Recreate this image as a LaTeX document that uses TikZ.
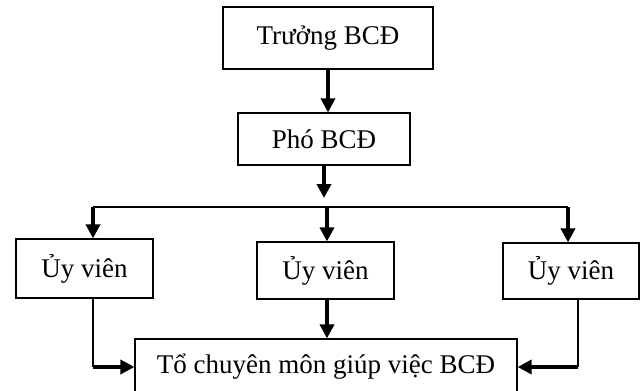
\documentclass[tikz,border=0pt]{standalone}
\usepackage{fontspec}
\setmainfont{Liberation Serif}
\usetikzlibrary{arrows.meta}
\begin{document}
\begin{tikzpicture}[x=1pt,y=-1pt,
    box/.style={draw,line width=1.2pt,inner sep=0pt,font=\fontsize{27}{32}\selectfont},
    arr/.style={line width=3.5pt,-{Triangle[length=14pt,width=14pt]}},
    thin/.style={line width=1.2pt}]
    \clip (0,0) rectangle (643,391);

    % Draw boxes
    \node[box,minimum width=210pt,minimum height=62pt] (truong) at (328,38) {Trưởng BCĐ};
    \node[box,minimum width=172pt,minimum height=52pt] (pho) at (324,139) {Phó BCĐ};
    \node[box,minimum width=137pt,minimum height=59pt] (uv1) at (84.5,268.5) {Ủy viên};
    \node[box,minimum width=137pt,minimum height=57pt] (uv2) at (325.5,270.5) {Ủy viên};
    \node[box,minimum width=136pt,minimum height=56pt] (uv3) at (571,271) {Ủy viên};
    \node[box,minimum width=382pt,minimum height=56pt] (to) at (326,367) {Tổ chuyên môn giúp việc BCĐ};

    % Points on the split line
    \coordinate (split) at (324,198);
    \coordinate (barL) at (93,207);
    \coordinate (barM) at (327,207);
    \coordinate (barR) at (568,207);
    \coordinate (drop3) at (578,299);

    % Top arrows
    \draw[arr] (truong.south) -- (truong.south |- pho.north);
    \draw[arr] (pho.south) -- (split);

    % Split line and arrows to members
    \draw[thin] (barL) -- (barR);
    \draw[arr] (barL) -- (barL |- uv1.north);
    \draw[arr] (barM) -- (barM |- uv2.north);
    \draw[arr] (barR) -- (barR |- uv3.north);

    % Arrows to the working group
    \draw[thin] (barL |- uv1.south) -- (barL |- to.west);
    \draw[arr] (barL |- to.west) -- (to.west);
    \draw[arr] (barM |- uv2.south) -- (barM |- to.north);
    \draw[thin] (drop3) -- (drop3 |- to.east);
    \draw[arr] (drop3 |- to.east) -- (to.east);
\end{tikzpicture}
\end{document}
